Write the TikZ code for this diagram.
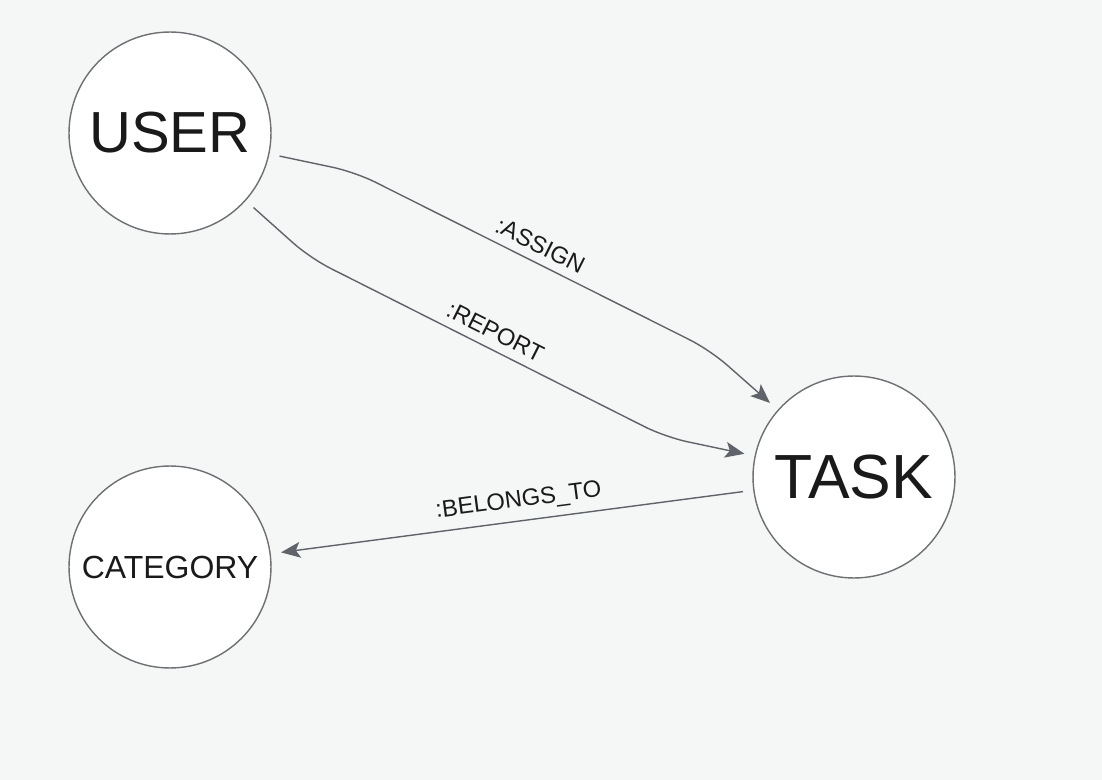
\documentclass[tikz,border=0pt]{standalone}
\usepackage{fontspec}
\setmainfont{Liberation Sans}
\usepackage{tikz}
\usetikzlibrary{arrows.meta,positioning}
\definecolor{bggray}{RGB}{245,246,246}
\definecolor{edgegray}{RGB}{96,100,106}
\definecolor{ringgray}{RGB}{110,112,116}
\definecolor{inkgray}{RGB}{26,26,26}
\tikzset{
  entity/.style={circle, draw=ringgray, line width=0.8pt, fill=white, minimum size=4.04cm, inner sep=0pt, outer sep=0.22cm, text=inkgray},
  rel/.style={line width=0.8pt, draw=edgegray, rounded corners=0.45cm, -{Stealth[length=11pt,width=9pt,inset=2.5pt]}},
  rellabel/.style={sloped, above=1.5pt, text=inkgray, font=\fontsize{13.5}{15}\selectfont}
}

\begin{document}
\begin{tikzpicture}[x=0.02cm, y=-0.02cm]
% Background
\fill[bggray] (0,0) rectangle (1102,780);
\useasboundingbox (0,0) rectangle (1102,780);

% Entities
\node[entity, font=\fontsize{33}{38}\selectfont] (user) at (170,133) {USER};
\node[entity, font=\fontsize{35.5}{40}\selectfont] (task) at (854,477) {TASK};
\node[entity, font=\fontsize{18.2}{21}\selectfont] (category) at (170,567) {CATEGORY};

% Bends
\coordinate (assignA) at (355,172);
\coordinate (assignB) at (710,350);
\coordinate (reportA) at (310,258);
\coordinate (reportB) at (665,437);

% Relations
\draw[rel] (user) -- (assignA) -- node[rellabel, pos=0.5] {:ASSIGN} (assignB) -- (task);
\draw[rel] (user) -- (reportA) -- node[rellabel, pos=0.5] {:REPORT} (reportB) -- (task);
\draw[rel] (task) -- node[rellabel, pos=0.48] {:BELONGS\_TO} (category);
\end{tikzpicture}
\end{document}
